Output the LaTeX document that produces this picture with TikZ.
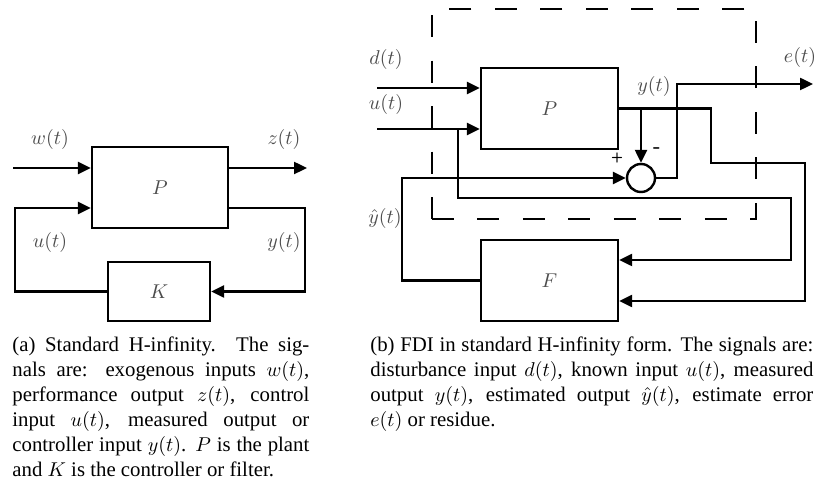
\documentclass[tikz,border=0pt]{standalone}
\usepackage{fontspec}
\setmainfont{Liberation Serif}
\usetikzlibrary{arrows.meta}

\begin{document}
\begin{tikzpicture}[x=0.5pt,y=-0.5pt,
  wire/.style={line width=1.2pt},
  arr/.style={wire,-{Triangle[length=6.5pt,width=6pt]}},
  blk/.style={draw,line width=1.2pt,minimum width=68pt,minimum height=40.5pt,inner sep=0pt,
    text=black!70,font=\fontsize{10pt}{12pt}\selectfont},
  sig/.style={text=black!70,inner sep=0pt,font=\fontsize{9.6pt}{12pt}\selectfont},
  sumj/.style={draw,circle,line width=1.2pt,minimum size=14pt,inner sep=0pt},
  frame/.style={line width=1.2pt,dash pattern=on 11pt off 11.74pt},
  capt/.style={anchor=north west,inner sep=0pt,align=justify,
    font=\fontsize{10.4pt}{12.5pt}\selectfont}]
\useasboundingbox (0,0) rectangle (817,485);

% ---------- standard loop: plant P and controller K ----------
\node[blk] (P) at (160,187.5) {$P$};
\node[blk,minimum width=51pt,minimum height=29.5pt] (K) at (159,291.5) {$K$};

\coordinate (win) at (13,168);
\coordinate (zout) at (307,168);
\coordinate (yc) at (305,291.5);
\coordinate (uc) at (15,208);

\draw[arr] (win) -- (P.west |- win);
\draw[arr] (P.east |- zout) -- (zout);
\draw[arr] (P.east |- uc) -| (yc) -- (K.east);
\draw[arr] (K.west) -| (uc) -- (P.west |- uc);

\node[sig] (lw) at (50,140) {$w(t)$};
\node[sig] (lz) at (284,140) {$z(t)$};
\node[sig] (lu) at (50,243) {$u(t)$};
\node[sig] (ly) at (284,243) {$y(t)$};

% ---------- FDI arrangement: plant P, filter F, error junction ----------
% dashed boundary, drawn from its lower left corner round to it again
\draw[frame] (432,219) -- (756,219) -- (756,9) -- (432,9) -- (432,219);

\node[blk,minimum width=68.5pt] (P2) at (549.5,108.5) {$P$};
\node[blk,minimum width=68.5pt] (F2) at (549.5,280.5) {$F$};
\node[sumj] (S) at (641,178) {};

\coordinate (din) at (377,88);
\coordinate (uin) at (377,129);
\coordinate (ub) at (458,129);
\coordinate (ur) at (791,198);
\coordinate (f1) at (791,260);
\coordinate (yr1) at (711,163);
\coordinate (yr2) at (805,301);
\coordinate (yb) at (641,108.5);
\coordinate (ec) at (677,84);
\coordinate (eout) at (813,84);
\coordinate (yh) at (402,178);

\draw[arr] (din) -- (P2.west |- din);
\draw[arr] (uin) -- (P2.west |- uin);
\draw[arr] (ub) |- (ur) -- (f1) -- (F2.east |- f1);
\draw[arr] (P2.east) -| (yr1) -| (yr2) -- (F2.east |- yr2);
\draw[arr] (yb) -- (S.north);
\draw[arr] (S.east) -| (ec) -- (eout);
\draw[arr] (F2.west) -| (yh) -- (S.west);

\node[sig] (ld) at (386,60) {$d(t)$};
\node[sig] (lu2) at (386,105) {$u(t)$};
\node[sig] (ly2) at (654,87) {$y(t)$};
\node[sig] (le) at (800,58) {$e(t)$};
\node[sig] (lyh) at (385,219) {$\hat{y}(t)$};
\node[inner sep=0pt,font=\fontsize{7pt}{8pt}\selectfont\bfseries\sffamily] (plus) at (617,158) {+};
\node[inner sep=0pt,font=\fontsize{11pt}{12pt}\selectfont\bfseries\sffamily] (minus) at (657,151) {-};

% ---------- captions ----------
\node[capt,text width=148.5pt] (ca) at (12,336) {%
(a) Standard H-infinity. The sig-\linebreak
nals are: exogenous inputs $w(t)$,\linebreak
performance output $z(t)$, control\linebreak
input $u(t)$, measured output or\linebreak
controller input $y(t)$. $P$ is the plant\linebreak
and $K$ is the controller or filter.};

\node[capt,text width=221.5pt] (cb) at (370,336) {%
(b) FDI in standard H-infinity form. The signals are:\linebreak
disturbance input $d(t)$, known input $u(t)$, measured\linebreak
output $y(t)$, estimated output $\hat{y}(t)$, estimate error\linebreak
$e(t)$ or residue.};
\end{tikzpicture}
\end{document}
